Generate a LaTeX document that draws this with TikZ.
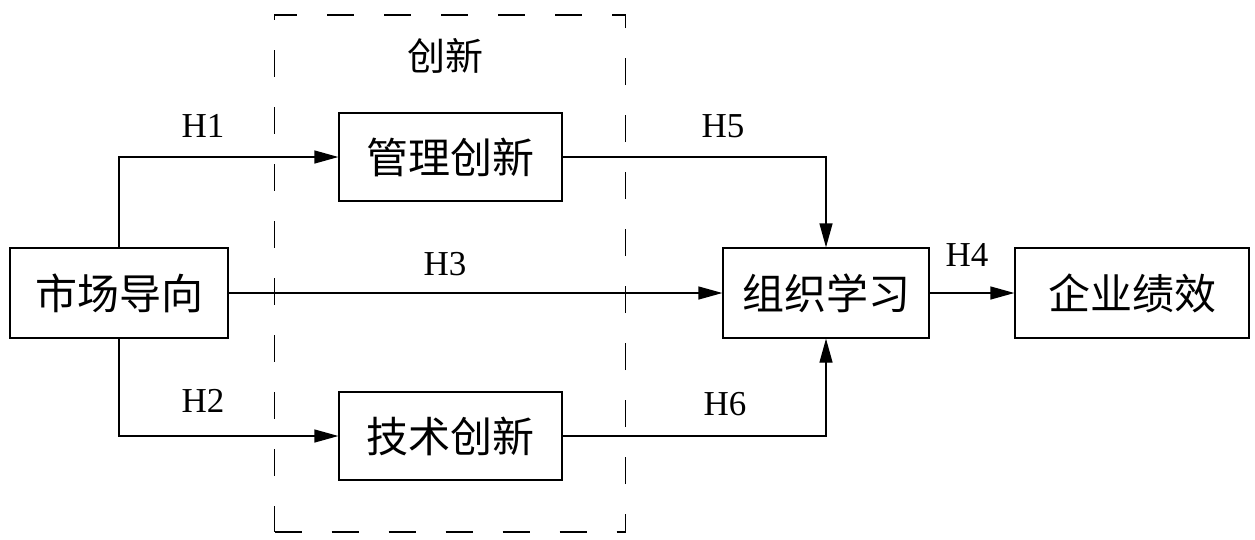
\documentclass[tikz,border=0pt]{standalone}
\usepackage{fontspec}
\setmainfont{Liberation Serif}
\newfontfamily\cjk{Noto Sans CJK SC}
\usetikzlibrary{arrows.meta}
\begin{document}
\begin{tikzpicture}[x=1pt,y=-1pt,
  box/.style={draw, line width=1.3pt, inner sep=0pt, font=\cjk\fontsize{42}{48}\selectfont},
  arr/.style={line width=1.3pt, -{Triangle[length=24pt,width=13pt]}},
  hlab/.style={font=\fontsize{35}{40}\selectfont},
  dbox/.style={draw, line width=1.3pt, dash pattern=on 27pt off 30pt, inner sep=0pt}]
\useasboundingbox (0,0) rectangle (1255,539);
\fill[white] (0,0) rectangle (1255,539);
\node[dbox, minimum width=351pt, minimum height=517pt] (inno) at (450,273.5) {};
\node[font=\cjk\fontsize{38}{44}\selectfont] (innolab) at (445,56) {创新};
\node[box, minimum width=218pt, minimum height=90pt] (m) at (119,293) {市场导向};
\node[box, minimum width=223pt, minimum height=88pt] (g) at (450.5,157) {管理创新};
\node[box, minimum width=223pt, minimum height=88pt] (t) at (450.5,436) {技术创新};
\node[box, minimum width=206pt, minimum height=90pt] (o) at (826,293) {组织学习};
\node[box, minimum width=234pt, minimum height=90pt] (p) at (1132,293) {企业绩效};
\draw[arr] (m.north) |- (g.west);
\draw[arr] (m.south) |- (t.west);
\draw[arr] (m.east) -- (o.west);
\draw[arr] (g.east) -| (o.north);
\draw[arr] (t.east) -| (o.south);
\draw[arr] (o.east) -- (p.west);
\node[hlab] (h1) at (203,126) {H1};
\node[hlab] (h2) at (203,401) {H2};
\node[hlab] (h3) at (445,264) {H3};
\node[hlab] (h5) at (723,126) {H5};
\node[hlab] (h6) at (725,404) {H6};
\node[hlab] (h4) at (967,255) {H4};
\end{tikzpicture}
\end{document}
